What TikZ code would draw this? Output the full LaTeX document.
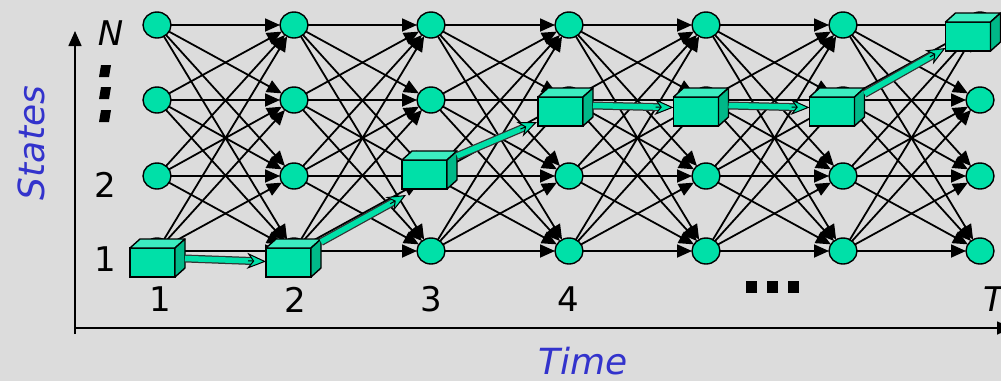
\documentclass[tikz,border=0pt]{standalone}
\usepackage{fontspec}
\setmainfont{DejaVu Sans}
\usetikzlibrary{arrows.meta,calc,shapes.geometric}
\pgfdeclarelayer{bglayer}
\pgfdeclarelayer{edgelayer}
\pgfdeclarelayer{toplayer}
\pgfsetlayers{bglayer,edgelayer,main,toplayer}
\definecolor{bgc}{RGB}{220,220,220}
\definecolor{gfill}{RGB}{0,224,168}
\definecolor{gtop}{RGB}{60,236,192}
\definecolor{gside}{RGB}{0,184,136}
\definecolor{lblue}{RGB}{51,51,204}
\newcommand\garrow[2]{%
  \draw[line width=8pt, black!80, shorten >=13pt] (#1) -- (#2);
  \draw[line width=5.5pt, gfill, shorten >=12pt] (#1) -- (#2);
  \draw[line width=1pt, -{Stealth[length=19pt,width=16pt,inset=6pt,fill=gfill]}] ($(#2)!18pt!(#1)$) -- (#2);}
\newcommand\mycube[3]{%
  \node[cube] (#1) at (#2,#3) {};
  \draw[cubeline, fill=gtop] (#1.north west) -- ++(10,-9) -- ++(45,0) -- (#1.north east) -- cycle;
  \draw[cubeline, fill=gside] (#1.north east) -- ++(10,-9) -- ++(0,29) -- (#1.south east) -- cycle;}
\begin{document}
\begin{tikzpicture}[x=1pt,y=-1pt,
  st/.style={ellipse, draw, line width=1.4pt, fill=gfill, minimum width=28pt, minimum height=26pt, inner sep=0pt, outer sep=0pt},
  cube/.style={rectangle, draw, line width=1.4pt, fill=gfill, minimum width=45pt, minimum height=29pt, inner sep=0pt, outer sep=0pt},
  cubeline/.style={draw, line width=1.4pt, line join=round},
  edge/.style={line width=1.8pt, -{Triangle[length=15pt,width=13pt]}},
  axis/.style={line width=1.6pt, -{Triangle[length=15pt,width=13pt]}},
  lbl/.style={font=\fontsize{34}{40}\selectfont, inner sep=0pt},
  blbl/.style={font=\fontsize{36}{42}\selectfont\itshape, text=lblue, inner sep=0pt}]
\begin{pgfonlayer}{bglayer}
\fill[bgc] (0,0) rectangle (1001,381);
\end{pgfonlayer}
\useasboundingbox (0,0) rectangle (1001,381);
% state nodes
\foreach \c [count=\i] in {157,294,431,569,706,843,980}
  \foreach \y [count=\r] in {251,176,100,25}
    \node[st] (n\i-\r) at (\c,\y) {};
% transitions
\begin{pgfonlayer}{edgelayer}
\foreach \i [evaluate=\i as \j using int(\i+1)] in {1,...,6}
  \foreach \r in {1,...,4}
    \foreach \s in {1,...,4}
      \draw[edge] (n\i-\r) -- (n\j-\s);
\end{pgfonlayer}
% path boxes and arrows
\begin{pgfonlayer}{toplayer}
\mycube{B1}{152.5}{262.5}
\mycube{B2}{288.5}{262.5}
\mycube{B3}{424.5}{174.5}
\mycube{B4}{560.5}{111.5}
\mycube{B5}{696}{111.5}
\mycube{B6}{832}{111.5}
\mycube{B7}{968}{36.5}
\coordinate (g1s) at ($(B1.east)+(10,-4)$);
\coordinate (g1e) at ($(B2.west)+(0,-1)$);
\coordinate (g2s) at ($(B2.north east)+(10,-6)$);
\coordinate (g2e) at ($(B3.south west)+(4,6)$);
\coordinate (g3s) at ($(B3.north east)+(10,-4)$);
\coordinate (g3e) at ($(B4.south west)+(-1,-4)$);
\coordinate (g4s) at ($(B4.east)+(10,-6)$);
\coordinate (g4e) at ($(B5.west)+(0,-4)$);
\coordinate (g5s) at ($(B5.east)+(10,-6)$);
\coordinate (g5e) at ($(B6.west)+(0,-4)$);
\coordinate (g6s) at ($(B6.north east)+(10,-3)$);
\coordinate (g6e) at ($(B7.south west)+(0,-3)$);
\garrow{g1s}{g1e}
\garrow{g2s}{g2e}
\garrow{g3s}{g3e}
\garrow{g4s}{g4e}
\garrow{g5s}{g5e}
\garrow{g6s}{g6e}
\end{pgfonlayer}
% axes
\coordinate (yb) at (75,334);
\coordinate (yt) at (75,31);
\coordinate (xl) at (74,328);
\coordinate (xr) at (1012,328);
\draw[axis] (yb) -- (yt);
\draw[axis] (xl) -- (xr);
% labels
\node[lbl] (rN) at (110.5,33) {\itshape N};
\foreach \yy in {65,87,110}
  \fill[black] (99,\yy+12) -- (109,\yy+12) -- (111,\yy) -- (101,\yy) -- cycle;
\node[lbl] (r2) at (105,185) {2};
\node[lbl] (r1) at (105,259.5) {1};
\node[lbl] (c1) at (160,299.5) {1};
\node[lbl] (c2) at (295,299.5) {2};
\node[lbl] (c3) at (431,299.5) {3};
\node[lbl] (c4) at (568,299.5) {4};
\node[lbl, anchor=west] (cT) at (983,299.5) {\itshape T};
\foreach \xx in {746,767,788}
  \fill[black] (\xx,281) rectangle ++(11,12);
\node[blbl, rotate=90] (states) at (31,143) {States};
\node[blbl] (time) at (583,361) {Time};
\end{tikzpicture}
\end{document}
